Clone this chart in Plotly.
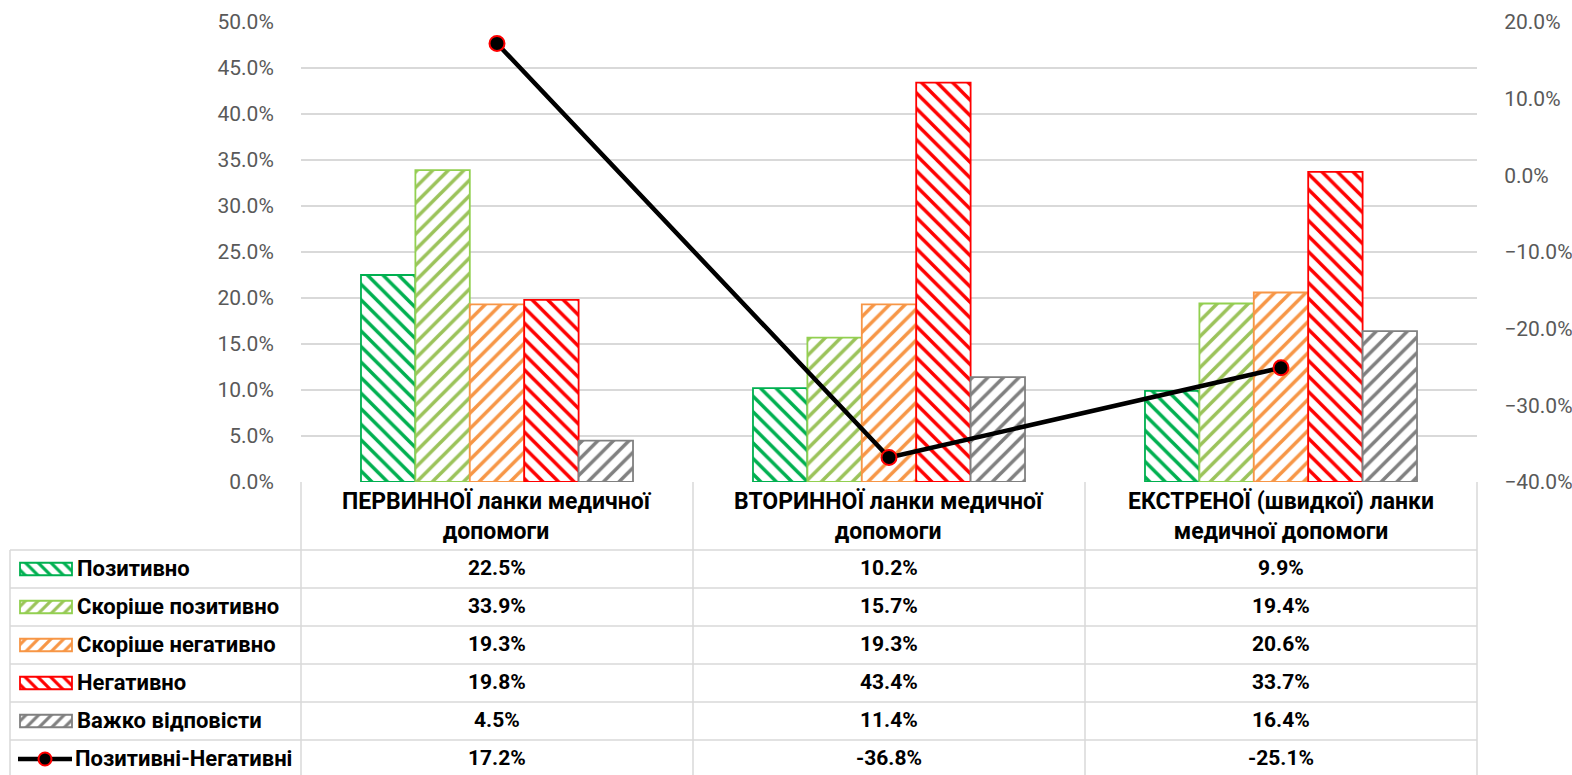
import plotly.graph_objects as go

# ---------------- data ----------------
categories = ["ПЕРВИННОЇ ланки медичної<br>допомоги",
              "ВТОРИННОЇ ланки медичної<br>допомоги",
              "ЕКСТРЕНОЇ (швидкої) ланки<br>медичної допомоги"]
cat_keys = ["c1", "c2", "c3"]

series_names = ["Позитивно", "Скоріше позитивно", "Скоріше негативно",
                "Негативно", "Важко відповісти"]
pozytyvno = [22.5, 10.2, 9.9]
skorishe_pozytyvno = [33.9, 15.7, 19.4]
skorishe_negatyvno = [19.3, 19.3, 20.6]
negatyvno = [19.8, 43.4, 33.7]
vazhko = [4.5, 11.4, 16.4]
series_values = [pozytyvno, skorishe_pozytyvno, skorishe_negatyvno, negatyvno, vazhko]

line_name = "Позитивні-Негативні"
pos_minus_neg = [17.2, -36.8, -25.1]

left_ticks = [0, 50, 5]
right_ticks = [-40, 20, 10]

# ---------------- styles ----------------
W, H = 1572, 775
colors = ["#00B050", "#92D050", "#F79646", "#FF0000", "#808080"]
hatch_colors = ["#00B050", "#9BC35A", "#F79646", "#FF0000", "#808080"]
shapes_pat = ["\\", "/", "/", "\\", "/"]
FONT = "Roboto"
GRID = "#D9D9D9"
BOLD = 21


def px(x):
    return x / W


def py(y):
    return 1 - y / H


fig = go.Figure()

for i, name in enumerate(series_names):
    fig.add_trace(go.Bar(
        x=cat_keys, y=series_values[i], name=name, showlegend=False,
        marker=dict(color=colors[i],
                    line=dict(color=colors[i], width=1.8),
                    pattern=dict(shape=shapes_pat[i], fgcolor=hatch_colors[i],
                                 bgcolor="white", size=11, solidity=0.32,
                                 fillmode="replace")),
        hoverinfo="skip"))

fig.add_trace(go.Scatter(
    x=cat_keys, y=pos_minus_neg, name=line_name, yaxis="y2", showlegend=False,
    mode="lines+markers",
    line=dict(color="black", width=4.5),
    marker=dict(size=15, color="black", line=dict(color="#FF0000", width=2)),
    cliponaxis=False, hoverinfo="skip"))

# ---- legend keys inside the table (x3/y3 in pixel-like units) ----
for i, name in enumerate(series_names):
    fig.add_trace(go.Bar(
        y=[i], x=[52], base=[20], orientation="h", width=0.33,
        xaxis="x3", yaxis="y3", showlegend=False, hoverinfo="skip",
        marker=dict(color=colors[i], line=dict(color=colors[i], width=1.8),
                    pattern=dict(shape=shapes_pat[i], fgcolor=hatch_colors[i],
                                 bgcolor="white", size=9, solidity=0.35,
                                 fillmode="replace"))))
fig.add_trace(go.Scatter(
    x=[18, 72], y=[5, 5], mode="lines", xaxis="x3", yaxis="y3",
    line=dict(color="black", width=4.5), showlegend=False, hoverinfo="skip"))
fig.add_trace(go.Scatter(
    x=[45], y=[5], mode="markers", xaxis="x3", yaxis="y3",
    marker=dict(size=13, color="black", line=dict(color="#FF0000", width=2)),
    showlegend=False, hoverinfo="skip"))

row_top = 550
row_h = 38

shapes = []
for r in range(6):
    yy = row_top + r * row_h
    shapes.append(dict(type="line", xref="paper", yref="paper",
                       x0=px(10), x1=px(1477), y0=py(yy), y1=py(yy),
                       line=dict(color=GRID, width=1.5)))
for xx in [301, 693, 1085, 1477]:
    shapes.append(dict(type="line", xref="paper", yref="paper",
                       x0=px(xx), x1=px(xx), y0=py(482), y1=0,
                       line=dict(color=GRID, width=1.5)))
shapes.append(dict(type="line", xref="paper", yref="paper",
                   x0=px(10), x1=px(10), y0=py(row_top), y1=0,
                   line=dict(color=GRID, width=1.5)))

annotations = []
for k, c in zip(cat_keys, categories):
    annotations.append(dict(x=k, xref="x", y=py(516), yref="paper", text=c,
                            showarrow=False, xanchor="center", yanchor="middle",
                            font=dict(family=FONT, size=23, color="black", weight="bold")))
all_rows = series_values + [pos_minus_neg]
for r, vals in enumerate(all_rows):
    yc = row_top + r * row_h + row_h / 2 - 1
    for k, v in zip(cat_keys, vals):
        annotations.append(dict(x=k, xref="x", y=py(yc), yref="paper",
                                text=f"{v:.1f}%", showarrow=False,
                                xanchor="center", yanchor="middle",
                                font=dict(family=FONT, size=BOLD, color="black", weight="bold")))
for r, name in enumerate(series_names + [line_name]):
    yc = row_top + r * row_h + row_h / 2 - 1
    annotations.append(dict(x=px(75 if r < 5 else 73), xref="paper", y=py(yc), yref="paper",
                            text=name, showarrow=False, xanchor="left", yanchor="middle",
                            font=dict(family=FONT, size=22, color="black", weight="bold")))

tickfont = dict(family=FONT, size=21, color="#595959")

fig.update_layout(
    width=W, height=H, margin=dict(l=0, r=0, t=0, b=0, autoexpand=False),
    paper_bgcolor="white", plot_bgcolor="white",
    barmode="group", bargap=0.306, bargroupgap=0,
    font=dict(family=FONT),
    xaxis=dict(domain=[px(301), px(1477)], showticklabels=False, ticks="",
               showgrid=False, zeroline=False, showline=False,
               categoryorder="array", categoryarray=cat_keys),
    yaxis=dict(domain=[py(482), py(22)], range=[left_ticks[0], left_ticks[1]],
               dtick=left_ticks[2], tick0=0, ticksuffix="%", tickformat=".1f",
               showgrid=True, gridcolor=GRID, gridwidth=1.5, zeroline=False,
               showline=False, ticks="outside", ticklen=22,
               tickcolor="rgba(0,0,0,0)", tickfont=tickfont, automargin=False),
    yaxis2=dict(overlaying="y", side="right", anchor="x",
                range=[right_ticks[0], right_ticks[1]], dtick=right_ticks[2],
                tick0=-40, ticksuffix="%", tickformat=".1f", showgrid=False,
                zeroline=False, showline=False, ticks="outside", ticklen=22,
                tickcolor="rgba(0,0,0,0)", tickfont=tickfont, automargin=False),
    xaxis3=dict(domain=[0, px(300)], range=[0, 300], visible=False,
                anchor="y3", fixedrange=True),
    yaxis3=dict(domain=[0, py(row_top)],
                range=[(H - row_top) / row_h - 0.5, -0.5],
                visible=False, anchor="x3", fixedrange=True),
    shapes=shapes, annotations=annotations,
)

fig.write_html("out.html", config={"displayModeBar": False},
               post_script="document.body.style.margin='0';document.body.style.overflow='hidden';")
